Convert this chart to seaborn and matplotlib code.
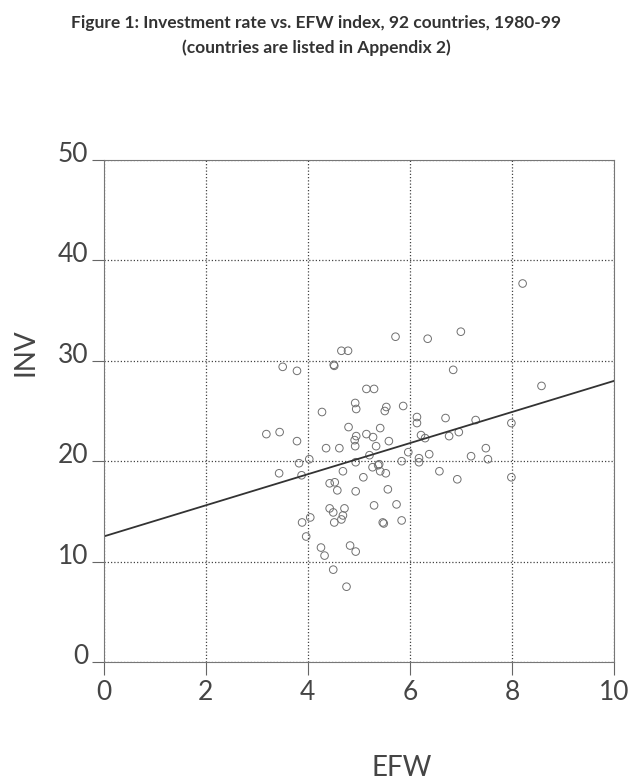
import matplotlib
matplotlib.use("Agg")
import matplotlib.pyplot as plt
import matplotlib.transforms as mtransforms
import seaborn as sns
import pandas as pd

# ---- data ----
efw = [5.72, 4.66, 4.79, 3.51, 3.79, 4.51, 5.15, 5.30, 4.28, 4.93,
       4.95, 5.54, 5.51, 5.87, 6.14, 6.14, 6.22, 3.19, 3.45, 3.79,
       4.80, 5.42, 5.15, 5.28, 4.95, 4.92, 5.59, 4.93, 4.36, 4.62,
       5.34, 5.97, 6.18, 4.03, 3.83, 5.21, 4.94, 5.38, 5.27, 5.42,
       5.53, 5.84, 3.44, 3.88, 4.69, 5.09, 4.43, 4.53, 4.58, 4.94,
       5.57, 5.74, 5.30, 4.43, 4.50, 4.72, 4.69, 4.66, 4.52, 4.05,
       3.89, 5.47, 5.84, 3.97, 4.26, 4.33, 4.83, 4.94, 4.50, 4.76,
       8.21, 6.35, 7.00, 6.85, 8.58, 6.70, 7.29, 7.99, 6.30, 6.77,
       6.96, 6.38, 6.18, 7.20, 7.49, 7.53, 6.58, 6.93, 7.99, 5.49,
       5.40, 4.52]
inv = [32.4, 31.0, 31.0, 29.4, 29.0, 29.6, 27.2, 27.2, 24.9, 25.8,
       25.2, 25.4, 25.0, 25.5, 24.4, 23.8, 22.6, 22.7, 22.9, 22.0,
       23.4, 23.3, 22.7, 22.4, 22.5, 22.1, 22.0, 21.5, 21.3, 21.3,
       21.5, 20.9, 20.3, 20.2, 19.8, 20.6, 19.9, 19.6, 19.4, 19.0,
       18.8, 20.0, 18.8, 18.6, 19.0, 18.4, 17.8, 17.9, 17.1, 17.0,
       17.2, 15.7, 15.6, 15.3, 14.9, 15.3, 14.6, 14.2, 13.9, 14.4,
       13.9, 13.9, 14.1, 12.5, 11.4, 10.6, 11.6, 11.0, 9.2, 7.5,
       37.7, 32.2, 32.9, 29.1, 27.5, 24.3, 24.1, 23.8, 22.3, 22.5,
       22.9, 20.7, 19.9, 20.5, 21.3, 20.2, 19.0, 18.2, 18.4, 13.8,
       19.7, 29.5]
fit_intercept = 12.5
fit_slope = 1.55
x_ticks = [0, 2, 4, 6, 8, 10]
y_ticks = [0, 10, 20, 30, 40, 50]
title_lines = ["Figure 1: Investment rate vs. EFW index, 92 countries, 1980-99",
               "(countries are listed in Appendix 2)"]

df = pd.DataFrame({"EFW": efw, "INV": inv})

sns.set_theme(style="white")
plt.rcParams["font.family"] = ["Lato", "DejaVu Sans"]

fig = plt.figure(figsize=(6.32, 7.84), dpi=100)
ax = fig.add_axes([0.1638, 0.1556, 0.8077, 0.6403])

sns.scatterplot(data=df, x="EFW", y="INV", ax=ax, s=30, marker="o",
                facecolor="none", edgecolor="#707070", linewidth=0.7)
ax.axline((0, fit_intercept), slope=fit_slope, color="#333333", lw=1.3)

ax.set_xlim(x_ticks[0], x_ticks[-1])
ax.set_ylim(y_ticks[0], y_ticks[-1])
ax.set_xticks(x_ticks)
ax.set_yticks(y_ticks)
txt_color = "#454545"
ax.set_xticklabels([str(t) for t in x_ticks], fontsize=19, color=txt_color)
ax.set_yticklabels([str(t) for t in y_ticks], fontsize=19, color=txt_color)
ax.tick_params(axis="both", direction="out", length=9, width=0.8,
               color="#666666", bottom=True, left=True)
ax.tick_params(axis="y", pad=2)
ax.tick_params(axis="x", pad=4)
# y tick labels sit slightly above their tick marks in the reference
offset = mtransforms.ScaledTranslation(0, 8 / 100, fig.dpi_scale_trans)
for lab in ax.get_yticklabels():
    lab.set_transform(lab.get_transform() + offset)

ax.grid(True, linestyle=(0, (1, 1.6)), color="#444444", linewidth=0.9)
for sp in ax.spines.values():
    sp.set_color("#777777")
    sp.set_linewidth(0.8)
    sp.set_visible(True)
ax.set_xlabel("")
ax.set_ylabel("")

fig.text(0.041, 0.551, "INV", rotation=90, ha="center", va="center",
         fontsize=20, color=txt_color)
fig.text(0.635, 0.021, "EFW", ha="center", va="center",
         fontsize=20, color=txt_color)
fig.text(0.5, 0.971, title_lines[0], ha="center", va="center",
         fontsize=12.5, fontweight="bold", color="#333333")
fig.text(0.5, 0.939, title_lines[1], ha="center", va="center",
         fontsize=12.5, fontweight="bold", color="#333333")

fig.savefig("out.png", dpi=100, facecolor="white")
